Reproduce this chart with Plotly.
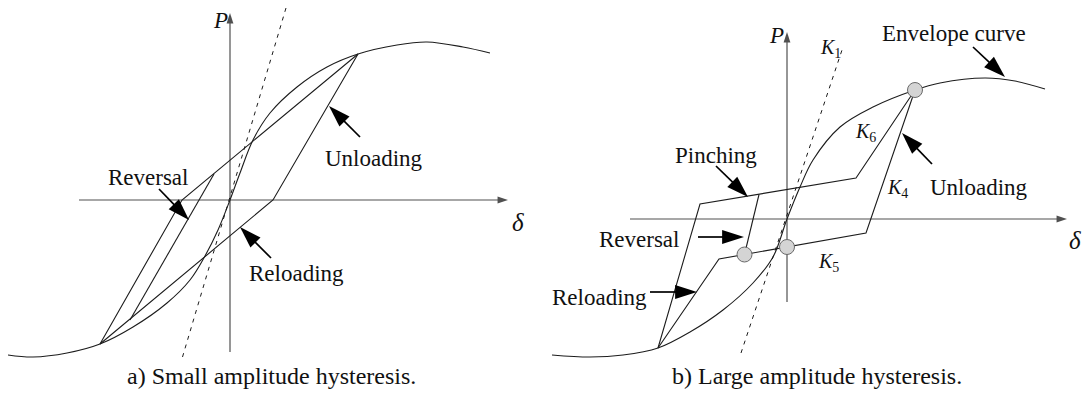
import plotly.graph_objects as go

# ---- panel a) small amplitude hysteresis (delta, P in drawing units) ----
env_a_d = [-22.2, -19.7, -16.3, -13.0, -9.7, -6.3, -4.0, -2.5, -1.2, 0.0,
           1.0, 2.3, 4.0, 6.7, 9.7, 12.8, 16.7, 19.7, 23.3, 26.0]
env_a_p = [-15.5, -15.7, -15.3, -14.4, -12.7, -10.3, -8.0, -5.6, -3.0, 0.0,
           2.7, 6.0, 8.7, 11.3, 13.3, 14.6, 15.5, 15.8, 15.3, 14.7]
unload_a_d = [12.8, 4.3, -13.0]          # unloading, then reloading to the lower peak
unload_a_p = [14.6, 0.0, -14.4]
reverse_a_d = [-13.0, -4.8, 12.8]        # reversal branch back to the upper peak
reverse_a_p = [-14.4, 0.0, 14.6]
inner_a_d = [-10.0, -1.6]
inner_a_p = [-12.0, 2.6]
k1_a_d = [-4.75, 5.6]
k1_a_p = [-15.7, 19.2]

# ---- panel b) large amplitude hysteresis ----
env_b_d = [-23.5, -19.7, -16.4, -12.9, -9.7, -6.4, -3.4, -1.4, 0.0,
           1.3, 2.6, 5.3, 8.6, 12.8, 15.3, 19.8, 22.8, 25.8]
env_b_p = [-13.6, -13.8, -13.6, -12.9, -11.3, -9.1, -6.4, -3.8, 0.0,
           3.2, 5.9, 9.2, 11.2, 12.9, 13.6, 14.1, 13.8, 13.0]
outer_b_d = [-12.9, -8.7, 6.9, 12.8]     # reloading, pinching, K6
outer_b_p = [-12.9, 1.5, 4.1, 12.9]
k4k5_b_d = [12.8, 7.9, -6.8, -12.9]      # K4 unloading, K5, reloading
k4k5_b_p = [12.9, -1.4, -4.0, -12.9]
reverse_b_d = [-4.25, -2.8]
reverse_b_p = [-3.55, 2.45]
nodes_b_d = [12.8, 0.0, -4.25]
nodes_b_p = [12.9, -2.8, -3.55]
k1_b_d = [-4.6, 5.5]
k1_b_p = [-13.4, 16.9]

LINE = "#1c1c1c"
AXIS = "#505050"
SERIF = "Liberation Serif"

fig = go.Figure()


def curve(d, p, xa, ya, shape="linear", dash=None, color=LINE, width=1.1):
    fig.add_trace(go.Scatter(
        x=d, y=p, xaxis=xa, yaxis=ya, mode="lines",
        line=dict(color=color, width=width, shape=shape, dash=dash,
                  smoothing=1.0 if shape == "spline" else None),
        hoverinfo="skip", showlegend=False))


def pointer(tail, head, xa, ya, size=23, width=1.7, color="#000"):
    fig.add_trace(go.Scatter(
        x=[tail[0], head[0]], y=[tail[1], head[1]], xaxis=xa, yaxis=ya,
        mode="lines+markers", line=dict(color=color, width=width),
        marker=dict(symbol="arrow", size=size, angleref="previous",
                    color=color, line=dict(width=0)),
        hoverinfo="skip", showlegend=False))


def label(text, d, p, xa, ya, size=23):
    fig.add_annotation(x=d, y=p, xref=xa, yref=ya, text=text, showarrow=False,
                       font=dict(family=SERIF, size=size, color="#111"),
                       xanchor="center", yanchor="middle")


# panel a
pointer((-15.1, 0), (27.8, 0), "x", "y", size=11, width=1.2, color=AXIS)
pointer((0, -15.2), (0, 18.7), "x", "y", size=11, width=1.2, color=AXIS)
curve(k1_a_d, k1_a_p, "x", "y", dash="4px,5px", width=1.0)
curve(env_a_d, env_a_p, "x", "y", shape="spline")
curve(unload_a_d, unload_a_p, "x", "y")
curve(reverse_a_d, reverse_a_p, "x", "y")
curve(inner_a_d, inner_a_p, "x", "y")
pointer((13.0, 6.3), (9.9, 9.4), "x", "y")
pointer((-7.1, 1.1), (-4.1, -2.0), "x", "y")
pointer((4.1, -5.8), (1.0, -2.7), "x", "y")
label("<i>P</i>", -1.0, 18.0, "x", "y", size=23)
label("<i>δ</i>", 28.8, -2.2, "x", "y", size=25)
label("Unloading", 14.4, 4.2, "x", "y")
label("Reversal", -8.2, 2.3, "x", "y")
label("Reloading", 6.6, -7.3, "x", "y")
label("a) Small amplitude hysteresis.", 4.1, -17.6, "x", "y", size=24)

# panel b
pointer((-15.7, 0), (28.0, 0), "x2", "y2", size=11, width=1.2, color=AXIS)
pointer((0, -8.3), (0, 18.7), "x2", "y2", size=11, width=1.2, color=AXIS)
curve(k1_b_d, k1_b_p, "x2", "y2", dash="4px,5px", width=1.0)
curve(env_b_d, env_b_p, "x2", "y2", shape="spline")
curve(outer_b_d, outer_b_p, "x2", "y2")
curve(k4k5_b_d, k4k5_b_p, "x2", "y2")
curve(reverse_b_d, reverse_b_p, "x2", "y2")
fig.add_trace(go.Scatter(
    x=nodes_b_d, y=nodes_b_p, xaxis="x2", yaxis="y2", mode="markers",
    marker=dict(size=15, color="#d4d4d4", line=dict(color="#6a6a6a", width=1)),
    hoverinfo="skip", showlegend=False))
pointer((18.6, 17.2), (21.8, 14.2), "x2", "y2")
pointer((14.5, 5.5), (11.5, 8.6), "x2", "y2")
pointer((-7.1, 5.3), (-3.9, 2.2), "x2", "y2")
pointer((-8.9, -1.8), (-4.3, -1.8), "x2", "y2")
pointer((-13.7, -7.3), (-9.0, -7.3), "x2", "y2")
label("<i>P</i>", -1.1, 18.4, "x2", "y2", size=23)
label("<i>δ</i>", 28.8, -2.1, "x2", "y2", size=25)
label("<i>K</i><sub>1</sub>", 4.3, 17.1, "x2", "y2", size=20)
label("<i>K</i><sub>6</sub>", 7.8, 8.7, "x2", "y2", size=20)
label("<i>K</i><sub>4</sub>", 11.0, 3.1, "x2", "y2", size=20)
label("<i>K</i><sub>5</sub>", 4.1, -4.3, "x2", "y2", size=20)
label("Envelope curve", 16.7, 18.6, "x2", "y2")
label("Unloading", 19.2, 3.2, "x2", "y2")
label("Pinching", -7.1, 6.4, "x2", "y2")
label("Reversal", -14.8, -2.0, "x2", "y2")
label("Reloading", -18.8, -7.8, "x2", "y2")
label("b) Large amplitude hysteresis.", 3.0, -15.7, "x2", "y2", size=24)

hidden = dict(visible=False, showgrid=False, zeroline=False, fixedrange=True)
fig.update_layout(
    width=1084, height=398,
    margin=dict(l=0, r=0, t=0, b=0),
    paper_bgcolor="white", plot_bgcolor="white",
    xaxis=dict(domain=[0, 540 / 1084], range=[-23.0, 31.0], **hidden),
    yaxis=dict(domain=[0, 1], range=[-19.8, 20.0], **hidden),
    xaxis2=dict(domain=[540 / 1084, 1], range=[-24.7, 29.7], anchor="y2", **hidden),
    yaxis2=dict(domain=[0, 1], range=[-17.9, 21.9], anchor="x2", **hidden),
)

fig.write_html("out.html", config={"displayModeBar": False},
               post_script="document.body.style.margin = '0';")
